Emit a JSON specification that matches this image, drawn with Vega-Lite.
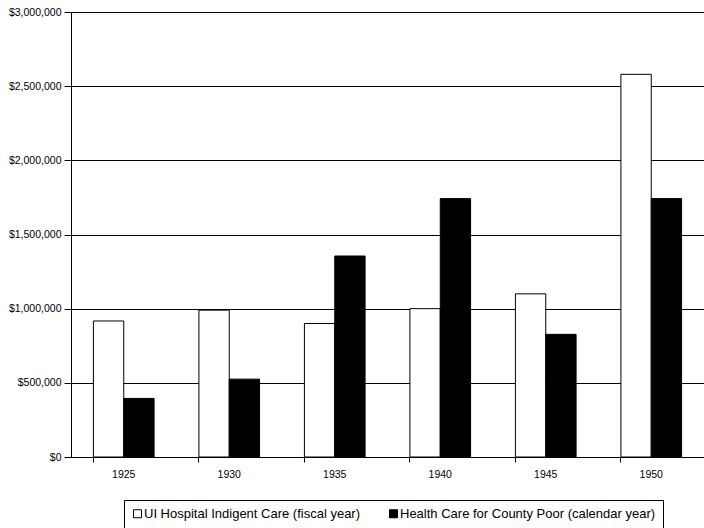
{
  "$schema": "https://vega.github.io/schema/vega-lite/v6.json",
  "autosize": "none",
  "width": 633,
  "height": 445,
  "padding": {"left": 71, "top": 12, "right": 0, "bottom": 71},
  "background": "white",
  "config": {
    "font": "Liberation Sans",
    "view": {"stroke": null}
  },
  "data": {
    "values": [
      {"year": "1925", "series": "UI Hospital Indigent Care (fiscal year)", "value": 917000},
      {"year": "1925", "series": "Health Care for County Poor (calendar year)", "value": 395000},
      {"year": "1930", "series": "UI Hospital Indigent Care (fiscal year)", "value": 990000},
      {"year": "1930", "series": "Health Care for County Poor (calendar year)", "value": 525000},
      {"year": "1935", "series": "UI Hospital Indigent Care (fiscal year)", "value": 900000},
      {"year": "1935", "series": "Health Care for County Poor (calendar year)", "value": 1355000},
      {"year": "1940", "series": "UI Hospital Indigent Care (fiscal year)", "value": 1000000},
      {"year": "1940", "series": "Health Care for County Poor (calendar year)", "value": 1742000},
      {"year": "1945", "series": "UI Hospital Indigent Care (fiscal year)", "value": 1100000},
      {"year": "1945", "series": "Health Care for County Poor (calendar year)", "value": 827000},
      {"year": "1950", "series": "UI Hospital Indigent Care (fiscal year)", "value": 2580000},
      {"year": "1950", "series": "Health Care for County Poor (calendar year)", "value": 1742000}
    ]
  },
  "mark": {"type": "bar", "stroke": "black", "strokeWidth": 1},
  "encoding": {
    "x": {
      "field": "year",
      "type": "nominal",
      "scale": {"paddingInner": 0.425, "paddingOuter": 0.2125},
      "axis": {
        "title": null,
        "labelAngle": 0,
        "labelFontSize": 10.5,
        "labelColor": "black",
        "labelPadding": 7,
        "bandPosition": 0,
        "tickSize": 5,
        "tickColor": "black",
        "domainColor": "black",
        "grid": false
      }
    },
    "xOffset": {
      "field": "series",
      "type": "nominal",
      "sort": ["UI Hospital Indigent Care (fiscal year)", "Health Care for County Poor (calendar year)"],
      "scale": {"paddingInner": 0, "paddingOuter": 0}
    },
    "y": {
      "field": "value",
      "type": "quantitative",
      "scale": {"domain": [0, 3000000], "nice": false},
      "axis": {
        "title": null,
        "values": [0, 500000, 1000000, 1500000, 2000000, 2500000, 3000000],
        "format": "$,.0f",
        "labelFontSize": 10.5,
        "labelColor": "black",
        "labelPadding": 3,
        "tickSize": 7,
        "tickColor": "black",
        "domainColor": "black",
        "grid": true,
        "gridColor": "black",
        "gridOpacity": 1,
        "gridWidth": 1
      }
    },
    "fill": {
      "field": "series",
      "type": "nominal",
      "sort": ["UI Hospital Indigent Care (fiscal year)", "Health Care for County Poor (calendar year)"],
      "scale": {
        "domain": ["UI Hospital Indigent Care (fiscal year)", "Health Care for County Poor (calendar year)"],
        "range": ["white", "black"]
      },
      "legend": {
        "title": null,
        "orient": "none",
        "direction": "horizontal",
        "legendX": 53,
        "legendY": 488,
        "strokeColor": "black",
        "padding": 7,
        "symbolType": "square",
        "symbolSize": 64,
        "symbolStrokeColor": "black",
        "symbolStrokeWidth": 1,
        "labelFontSize": 13,
        "labelColor": "black",
        "labelOffset": 0,
        "columnPadding": 26,
        "labelLimit": 400
      }
    }
  }
}
